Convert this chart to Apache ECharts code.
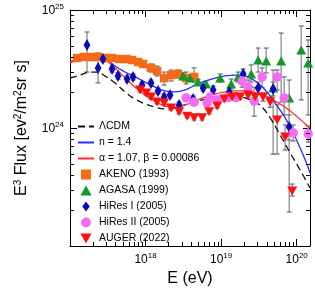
<!DOCTYPE html>
<html><head><meta charset="utf-8">
<script src="https://cdn.jsdelivr.net/npm/echarts@6/dist/echarts.min.js"></script>
<style>html,body{margin:0;padding:0;background:#fff}#c{width:315px;height:302px}</style>
</head><body><div id="c"></div>
<script>
const FONT = "'Liberation Sans', Arial, Helvetica, sans-serif";
// E (eV) , E^3 Flux (eV^2 m^-2 sr^-1 s^-1)
const lcdmCurve = [[1.00e17,2.65e24],[1.36e17,2.81e24],[1.84e17,2.98e24],[2.28e17,2.98e24],[2.91e17,2.76e24],[3.95e17,2.41e24],[5.35e17,2.02e24],[7.26e17,1.76e24],[9.85e17,1.60e24],[1.34e18,1.50e24],[1.81e18,1.45e24],[2.46e18,1.48e24],[3.34e18,1.57e24],[4.52e18,1.66e24],[6.14e18,1.76e24],[8.33e18,1.83e24],[1.13e19,1.87e24],[1.53e19,1.87e24],[2.08e19,1.80e24],[2.82e19,1.66e24],[3.49e19,1.50e24],[4.46e19,1.22e24],[6.04e19,0.873e24],[8.21e19,0.614e24],[1.11e20,0.441e24],[1.5e20,0.310e24]];
const n14Curve = [[1.00e17,3.62e24],[1.36e17,3.92e24],[1.84e17,4.08e24],[2.28e17,4.08e24],[2.91e17,3.92e24],[3.95e17,3.35e24],[5.35e17,2.98e24],[7.26e17,2.71e24],[9.85e17,2.45e24],[1.34e18,2.22e24],[1.81e18,2.06e24],[2.46e18,2.02e24],[3.34e18,2.10e24],[4.52e18,2.31e24],[6.14e18,2.50e24],[8.33e18,2.65e24],[1.13e19,2.76e24],[1.53e19,2.81e24],[2.08e19,2.76e24],[2.82e19,2.50e24],[3.83e19,2.10e24],[5.19e19,1.63e24],[7.04e19,1.22e24],[9.55e19,0.839e24],[1.30e20,0.535e24],[1.5e20,0.416e24]];
const alphaBetaCurve = [[1.00e17,3.56e24],[1.36e17,3.84e24],[1.84e17,4.00e24],[2.28e17,4.00e24],[2.91e17,3.77e24],[3.95e17,3.23e24],[5.35e17,2.65e24],[7.26e17,2.22e24],[9.85e17,1.90e24],[1.34e18,1.69e24],[1.81e18,1.53e24],[2.46e18,1.50e24],[3.34e18,1.57e24],[4.52e18,1.69e24],[6.14e18,1.83e24],[8.33e18,1.94e24],[1.13e19,2.02e24],[1.53e19,2.06e24],[2.08e19,2.06e24],[2.82e19,1.98e24],[3.83e19,1.87e24],[5.19e19,1.69e24],[7.04e19,1.50e24],[9.55e19,1.29e24],[1.30e20,1.08e24],[1.5e20,1.00e24]];
// points: [E, F, F_low, F_high]
const akeno = [[1.24e17,3.92e24,3.77e24,4.08e24],[1.53e17,4.00e24,3.84e24,4.16e24],[1.90e17,4.00e24,3.84e24,4.16e24],[2.35e17,4.00e24,3.84e24,4.16e24],[2.91e17,3.92e24,3.77e24,4.08e24],[3.60e17,3.92e24,3.77e24,4.08e24],[4.46e17,3.84e24,3.70e24,4.00e24],[5.52e17,3.84e24,3.70e24,4.00e24],[6.62e17,3.77e24,3.62e24,3.92e24],[7.96e17,3.62e24,3.42e24,3.84e24],[9.27e17,3.49e24,3.29e24,3.70e24],[1.18e18,3.23e24,2.98e24,3.49e24],[1.42e18,3.04e24,2.76e24,3.35e24],[1.76e18,2.65e24,2.31e24,2.98e24],[2.18e18,2.81e24,2.50e24,3.10e24],[2.69e18,2.87e24,2.65e24,3.10e24],[3.44e18,2.65e24,2.36e24,2.98e24],[4.39e18,2.71e24,2.45e24,3.23e24]];
const agasa = [[3.14e18,2.76e24,2.60e24,2.93e24],[3.88e18,2.65e24,2.50e24,2.81e24],[4.96e18,2.45e24,2.31e24,2.60e24],[6.33e18,2.36e24,2.22e24,2.50e24],[9.70e18,2.65e24,2.45e24,2.87e24],[1.36e19,2.36e24,2.14e24,2.60e24],[1.68e19,2.71e24,2.45e24,2.98e24],[2.50e19,2.87e24,2.45e24,3.42e24],[3.09e19,3.77e24,2.98e24,4.76e24],[3.95e19,3.70e24,2.93e24,4.76e24],[4.88e19,2.18e24,0.60e24,3.10e24],[6.23e19,3.70e24,1.66e24,6.38e24],[7.96e19,1.80e24,0.194e24,2.55e24],[1.15e20,4.58e24,1.73e24,7.32e24],[1.42e20,3.56e24,1.29e24,5.57e24]];
const hires1 = [[1.68e17,5.05e24,2.98e24,6.51e24],[2.35e17,3.23e24,2.41e24,4.32e24],[2.73e17,3.84e24,3.62e24,4.08e24],[3.60e17,3.16e24,2.98e24,3.35e24],[4.32e17,2.76e24,2.60e24,2.93e24],[5.69e17,2.60e24,2.45e24,2.76e24],[6.83e17,2.71e24,2.55e24,2.87e24],[8.99e17,2.31e24,2.18e24,2.45e24],[1.18e18,2.41e24,2.27e24,2.55e24],[1.46e18,2.06e24,1.94e24,2.18e24],[1.76e18,1.83e24,1.73e24,1.94e24],[2.11e18,1.90e24,1.80e24,2.02e24],[2.78e18,1.57e24,1.48e24,1.66e24],[4.26e18,1.76e24,1.66e24,1.87e24],[5.78e18,2.18e24,2.06e24,2.31e24],[7.84e18,2.10e24,1.94e24,2.27e24],[1.28e19,2.02e24,1.87e24,2.18e24],[1.96e19,2.87e24,2.60e24,3.16e24],[3.09e19,2.18e24,1.94e24,2.45e24],[4.88e19,2.14e24,1.87e24,2.45e24],[7.96e19,1.02e24,0.791e24,1.29e24]];
const hires2 = [[3.44e18,1.80e24,1.69e24,1.90e24],[4.39e18,1.66e24,1.57e24,1.76e24],[6.53e18,1.63e24,1.53e24,1.73e24],[7.15e18,1.83e24,1.73e24,1.94e24],[8.86e18,1.73e24,1.63e24,1.83e24],[1.24e19,1.83e24,1.69e24,1.98e24],[1.58e19,1.83e24,1.69e24,1.98e24],[1.90e19,2.50e24,2.22e24,2.81e24],[2.28e19,2.22e24,1.90e24,2.55e24],[2.74e19,1.69e24,1.26e24,2.22e24],[3.49e19,2.71e24,2.22e24,3.23e24],[5.52e19,2.71e24,2.10e24,3.10e24],[6.83e19,1.80e24,1.29e24,2.71e24],[8.99e19,0.908e24,0.775e24,1.06e24],[1.42e20,0.892e24,0.76e24,1.04e24]];
const auger = [[8.46e17,2.10e24,2.02e24,2.18e24],[1.02e18,1.98e24,1.90e24,2.06e24],[1.18e18,1.83e24,1.76e24,1.90e24],[1.42e18,1.66e24,1.60e24,1.73e24],[1.76e18,1.63e24,1.57e24,1.69e24],[2.18e18,1.48e24,1.42e24,1.53e24],[2.78e18,1.37e24,1.32e24,1.42e24],[3.55e18,1.26e24,1.22e24,1.32e24],[4.39e18,1.22e24,1.17e24,1.26e24],[5.60e18,1.22e24,1.17e24,1.26e24],[6.94e18,1.37e24,1.32e24,1.42e24],[8.86e18,1.53e24,1.48e24,1.60e24],[1.10e19,1.76e24,1.69e24,1.83e24],[1.40e19,1.83e24,1.76e24,1.90e24],[1.79e19,1.83e24,1.76e24,1.90e24],[2.28e19,1.90e24,1.83e24,1.98e24],[2.82e19,1.83e24,1.73e24,1.94e24],[3.60e19,1.83e24,1.69e24,1.98e24],[4.46e19,1.66e24,1.50e24,1.83e24],[5.52e19,1.17e24,0.602e24,1.57e24],[7.04e19,0.839e24,0.651e24,1.06e24],[8.72e19,0.292e24,0.265e24,0.335e24]];
const xTickLabels = {18:'{b|10}{s|18}', 19:'{b|10}{s|19}', 20:'{b|10}{s|20}'};
const yTickLabels = {24:'{b|10}{s|24}', 25:'{b|10}{s|25}'};
const X_MIN = 1e17, X_MAX = 1.5e20, Y_MIN = 1e23, Y_MAX = 1e25;

const chart = echarts.init(document.getElementById('c'), null, {renderer:'canvas'});
const rich = {b:{fontFamily:FONT,fontSize:12,lineHeight:14,verticalAlign:'bottom',color:'#000'},
              s:{fontFamily:FONT,fontSize:8,lineHeight:9,verticalAlign:'top',color:'#000'}};
function labelFmt(map){return function(v){const l=Math.log10(v);const r=Math.round(l);if(Math.abs(l-r)>1e-6)return '';return map[r]||'';};}
function errSeries(data){
  return {type:'custom', data:data.map(d=>[d[0],d[2],d[3]]), z:1, silent:true, clip:true,
    renderItem(params, api){
      const x=api.value(0), p1=api.coord([x,api.value(1)]), p2=api.coord([x,api.value(2)]);
      const cw=2.5;
      return {type:'group',children:[
        {type:'line',shape:{x1:p1[0],y1:p1[1],x2:p2[0],y2:p2[1]},style:{stroke:'#a3a3a3',lineWidth:1.6}},
        {type:'line',shape:{x1:p1[0]-cw,y1:p1[1],x2:p1[0]+cw,y2:p1[1]},style:{stroke:'#555',lineWidth:1}},
        {type:'line',shape:{x1:p2[0]-cw,y1:p2[1],x2:p2[0]+cw,y2:p2[1]},style:{stroke:'#555',lineWidth:1}}]};
    }};
}
const minorTicks = {type:'custom', data:[[1e18,1e24]], z:10, silent:true,
  renderItem(params, api){
    const cs=params.coordSys, ch=[], L=4;
    const st={stroke:'#000',lineWidth:1};
    for(let e=17;e<=20;e++)for(let k=2;k<=9;k++){const v=k*Math.pow(10,e);if(v>X_MAX)continue;
      const x=Math.round(api.coord([v,Y_MIN])[0])+0.5;
      ch.push({type:'line',shape:{x1:x,y1:cs.y+cs.height,x2:x,y2:cs.y+cs.height-L},style:st});
      ch.push({type:'line',shape:{x1:x,y1:cs.y,x2:x,y2:cs.y+L},style:st});}
    for(let e=23;e<=24;e++)for(let k=2;k<=9;k++){const v=k*Math.pow(10,e);
      const y=Math.round(api.coord([X_MIN,v])[1])+0.5;
      ch.push({type:'line',shape:{x1:cs.x,y1:y,x2:cs.x+L,y2:y},style:st});
      ch.push({type:'line',shape:{x1:cs.x+cs.width,y1:y,x2:cs.x+cs.width-L,y2:y},style:st});}
    return {type:'group',children:ch};
  }};
const axBase = {type:'log', logBase:10, splitLine:{show:false},
  axisLine:{show:true,lineStyle:{color:'#000',width:1}},
  axisTick:{show:true,inside:true,length:7,lineStyle:{color:'#000'}}};
const squareSym = 'path://M0,0 L10,0 L10,10 L0,10 Z';
const upTri = 'path://M5,0 L10,9 L0,9 Z';
const diamondSym = 'path://M4.5,0 L9,6 L4.5,12 L0,6 Z';
const downTri = 'path://M0,0 L10,0 L5,9 Z';
const noMark = {color:'rgba(0,0,0,0)',borderWidth:0};
const option = {
  animation:false,
  grid:{left:70,right:5,top:10,bottom:56},
  legend:{orient:'vertical',left:72,top:116,itemWidth:16,itemHeight:10,itemGap:5,
    textStyle:{fontFamily:FONT,fontSize:10.5,color:'#000',lineHeight:10},
    data:[{name:'ΛCDM',itemStyle:noMark},{name:'n = 1.4',itemStyle:noMark},{name:'α = 1.07, β = 0.00086',itemStyle:noMark},
      'AKENO (1993)','AGASA (1999)','HiRes I (2005)','HiRes II (2005)','AUGER (2022)']},
  xAxis:[
    Object.assign({},axBase,{min:X_MIN,max:X_MAX,position:'bottom',
      axisLabel:{formatter:labelFmt(xTickLabels),rich:rich,margin:6,showMinLabel:true,showMaxLabel:true},
      name:'E (eV)',nameLocation:'middle',nameGap:22,nameTextStyle:{fontFamily:FONT,fontSize:16,color:'#000'}}),
    Object.assign({},axBase,{min:X_MIN,max:X_MAX,position:'top',axisLabel:{show:false}})
  ],
  yAxis:[
    Object.assign({},axBase,{min:Y_MIN,max:Y_MAX,position:'left',
      axisLabel:{formatter:labelFmt(yTickLabels),rich:rich,margin:6},
      name:'E{s|3} Flux [ev{s|2}/m{s|2}sr s]',nameLocation:'middle',nameRotate:90,nameGap:33,
      nameTextStyle:{fontFamily:FONT,fontSize:16,color:'#000',lineHeight:18,verticalAlign:'bottom',
        rich:{s:{fontFamily:FONT,fontSize:10,lineHeight:11,verticalAlign:'top',color:'#000'}}}}),
    Object.assign({},axBase,{min:Y_MIN,max:Y_MAX,position:'right',axisLabel:{show:false}})
  ],
  series:[
    errSeries(akeno),errSeries(agasa),errSeries(hires1),errSeries(hires2),errSeries(auger),
    {name:'ΛCDM',type:'line',data:lcdmCurve,smooth:0.4,showSymbol:false,symbol:'none',z:2,
      lineStyle:{color:'#111',width:1.3,type:[7,4]},itemStyle:noMark},
    {name:'n = 1.4',type:'line',data:n14Curve,smooth:0.4,showSymbol:false,symbol:'none',z:2,
      lineStyle:{color:'#2a2aff',width:1.3},itemStyle:noMark},
    {name:'α = 1.07, β = 0.00086',type:'line',data:alphaBetaCurve,smooth:0.4,showSymbol:false,symbol:'none',z:2,
      lineStyle:{color:'#ff2a2a',width:1.3},itemStyle:noMark},
    {name:'AKENO (1993)',type:'scatter',data:akeno.map(d=>[d[0],d[1]]),symbol:squareSym,symbolSize:8.5,symbolKeepAspect:true,z:3,itemStyle:{color:'#f56a16',opacity:1}},
    {name:'AGASA (1999)',type:'scatter',data:agasa.map(d=>[d[0],d[1]]),symbol:upTri,symbolSize:10,symbolKeepAspect:true,z:3,itemStyle:{color:'#11992a',opacity:1}},
    {name:'HiRes I (2005)',type:'scatter',data:hires1.map(d=>[d[0],d[1]]),symbol:diamondSym,symbolSize:[9,12],symbolKeepAspect:true,z:3,itemStyle:{color:'#0a0ab8',opacity:1}},
    {name:'HiRes II (2005)',type:'scatter',data:hires2.map(d=>[d[0],d[1]]),symbol:'circle',symbolSize:9.5,symbolKeepAspect:true,z:3,itemStyle:{color:'#f46cf4',opacity:1}},
    {name:'AUGER (2022)',type:'scatter',data:auger.map(d=>[d[0],d[1]]),symbol:downTri,symbolKeepAspect:true,symbolSize:10,z:3,itemStyle:{color:'#ff1010',opacity:1}},
    minorTicks
  ]
};
chart.setOption(option);
</script></body></html>
